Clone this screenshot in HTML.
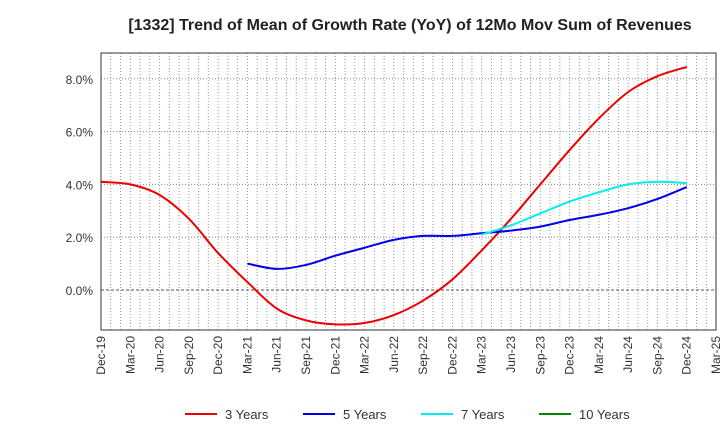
<!DOCTYPE html>
<html><head><meta charset="utf-8"><style>
body{margin:0;background:#fff;font-family:"Liberation Sans",sans-serif;}
svg text{font-family:"Liberation Sans",sans-serif;}
</style></head><body>
<svg width="720" height="440" id="c">
<text x="410" y="30" text-anchor="middle" font-size="16" font-weight="bold" fill="#222">[1332]  Trend of Mean of Growth Rate (YoY) of 12Mo Mov Sum of Revenues</text>
<g id="grid"></g><g id="series"></g><g id="axes"></g><g id="legend"></g>
</svg>
<script>
const xLabels=["Dec-19","Mar-20","Jun-20","Sep-20","Dec-20","Mar-21","Jun-21","Sep-21","Dec-21","Mar-22","Jun-22","Sep-22","Dec-22","Mar-23","Jun-23","Sep-23","Dec-23","Mar-24","Jun-24","Sep-24","Dec-24","Mar-25"];
const yTicks=[0,2,4,6,8];
const s3=[4.1,4.0,3.6,2.7,1.4,0.3,-0.7,-1.15,-1.3,-1.25,-0.95,-0.4,0.4,1.5,2.7,4.0,5.3,6.5,7.5,8.1,8.45];
const s5=[null,null,null,null,null,1.0,0.8,0.95,1.3,1.6,1.9,2.05,2.05,2.15,2.25,2.4,2.65,2.85,3.1,3.45,3.9];
const s7=[null,null,null,null,null,null,null,null,null,null,null,null,null,2.1,2.45,2.9,3.35,3.7,4.0,4.1,4.05];
const s10=[];
const L=101,R=716,T=53,B=330;
const X=i=>L+(R-L)*i/(xLabels.length-1);
const Y=v=>290-v*26.4;
const NS="http://www.w3.org/2000/svg";
function mk(p,t,a){const e=document.createElementNS(NS,t);for(const k in a)e.setAttribute(k,a[k]);p.appendChild(e);return e;}
const g=document.getElementById('grid'),ax=document.getElementById('axes'),se=document.getElementById('series'),lg=document.getElementById('legend');
for(let m=1;m<63;m++){const x=L+(R-L)*m/63;const l=mk(g,'line',{x1:x,x2:x,y1:T,y2:B,stroke:'#999','stroke-dasharray':'1,2','stroke-width':1});

}
yTicks.forEach(v=>{const y=Y(v);const l=mk(g,'line',{x1:L,x2:R,y1:y,y2:y,stroke:v===0?'#555':'#888','stroke-dasharray':v===0?'3,2':'1,2'});


const t=mk(ax,'text',{x:L-8,y:y+5,'text-anchor':'end','font-size':12,fill:'#333'});t.textContent=v.toFixed(1)+'%';

});
const fr=mk(ax,'rect',{x:L,y:T,width:R-L,height:B-T,fill:'none',stroke:'#333','stroke-width':1});


xLabels.forEach((s,i)=>{const x=X(i)+4;const t=mk(ax,'text',{x:x,y:B+6,'text-anchor':'end','font-size':12,fill:'#333',transform:`rotate(-90 ${x} ${B+6})`});t.textContent=s;

});
function path(arr){const p=[];arr.forEach((v,i)=>{if(v!=null)p.push([X(i),Y(v)]);});if(p.length<2)return '';
let d=`M${p[0][0]},${p[0][1]}`;for(let i=0;i<p.length-1;i++){const p0=p[i-1]||p[i],p1=p[i],p2=p[i+1],p3=p[i+2]||p2;
d+=` C${p1[0]+(p2[0]-p0[0])/6},${p1[1]+(p2[1]-p0[1])/6} ${p2[0]-(p3[0]-p1[0])/6},${p2[1]-(p3[1]-p1[1])/6} ${p2[0]},${p2[1]}`;}return d;}
const ser=[["3 Years",s3,"#ee0000"],["5 Years",s5,"#0000ee"],["7 Years",s7,"#00eeee"],["10 Years",s10,"#008800"]];
ser.forEach(([n,a,c],k)=>{const d=path(a);if(d){const e=mk(se,'path',{d:d,fill:'none',stroke:c,'stroke-width':2});

}
const lx=[185,303,421,539][k];const l=mk(lg,'line',{x1:lx,x2:lx+32,y1:414,y2:414,stroke:c,'stroke-width':2});


const t=mk(lg,'text',{x:lx+40,y:419,'font-size':13,fill:'#333'});t.textContent=n;

});
</script>
</body></html>
